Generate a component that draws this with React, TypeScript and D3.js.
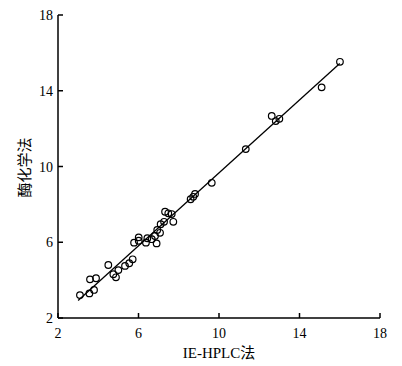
import React from "react";
import * as d3 from "d3";

const xValues = [3.09, 3.56, 3.79, 3.59, 3.89, 4.5, 4.75, 4.88, 5.0, 5.33, 5.54, 5.71, 5.78, 6.01, 6.01, 6.37, 6.44, 6.66, 6.82, 6.9, 6.93, 7.07, 7.1, 7.27, 7.32, 7.48, 7.65, 7.73, 8.59, 8.72, 8.81, 9.64, 11.33, 12.62, 12.82, 13.0, 15.1, 16.01];
const yValues = [3.21, 3.3, 3.48, 4.04, 4.1, 4.8, 4.31, 4.15, 4.53, 4.75, 4.89, 5.1, 5.98, 6.26, 6.08, 5.98, 6.21, 6.16, 6.33, 5.94, 6.65, 6.5, 6.95, 7.08, 7.61, 7.53, 7.49, 7.08, 8.27, 8.4, 8.55, 9.14, 10.92, 12.67, 12.4, 12.52, 14.18, 15.53];
const fitSlope = 0.963;
const fitIntercept = 0.03;
const fitRange = [3.0, 16.0];
const xTicks = [2, 6, 10, 14, 18];
const yTicks = [2, 6, 10, 14, 18];
const xTitle = "IE-HPLC法";
const yTitle = "酶化学法";

export default function App() {
  const left = 58, right = 380, top = 15, bottom = 318;
  const x = d3.scaleLinear().domain([2, 18]).range([left, right]);
  const y = d3.scaleLinear().domain([2, 18]).range([bottom, top]);
  const line = d3.line<number>().x((d) => x(d)).y((d) => y(fitSlope * d + fitIntercept));
  const serif = "'Liberation Serif', 'Times New Roman', serif";
  return (
    <svg width={402} height={366} style={{ position: "absolute", left: 0, top: 0, background: "#fff" }}>
      <g stroke="#000" strokeWidth={1.5} fill="none">
        <line x1={left} y1={top} x2={left} y2={bottom} />
        <line x1={left} y1={bottom} x2={right} y2={bottom} />
        {yTicks.map((t) => (
          <line key={"yt" + t} x1={left} x2={left + 5} y1={y(t)} y2={y(t)} />
        ))}
        {xTicks.map((t) => (
          <line key={"xt" + t} x1={x(t)} x2={x(t)} y1={bottom} y2={bottom - 5} />
        ))}
      </g>
      <g fontFamily={serif} fontSize={14} fill="#000">
        {yTicks.map((t) => (
          <text key={"yl" + t} x={left - 5} y={y(t) + 5} textAnchor="end">{t}</text>
        ))}
        {xTicks.map((t) => (
          <text key={"xl" + t} x={x(t)} y={bottom + 20} textAnchor="middle">{t}</text>
        ))}
      </g>
      <text x={(left + right) / 2 - 0} y={358} textAnchor="middle" fontSize={15} fontFamily={serif}>
        <tspan>IE-HPLC</tspan>
        <tspan fontFamily="'Noto Sans CJK SC', sans-serif">法</tspan>
      </text>
      <text
        transform={`translate(30, ${(top + bottom) / 2 + 1}) rotate(-90)`}
        textAnchor="middle"
        fontSize={15}
        fontFamily="'Noto Sans CJK SC', sans-serif"
      >
        {yTitle}
      </text>
      <path d={line(fitRange) || ""} stroke="#000" strokeWidth={1.3} fill="none" />
      <g stroke="#000" strokeWidth={1.2} fill="none">
        {xValues.map((v, i) => (
          <circle key={i} cx={x(v)} cy={y(yValues[i])} r={3.3} />
        ))}
      </g>
    </svg>
  );
}
